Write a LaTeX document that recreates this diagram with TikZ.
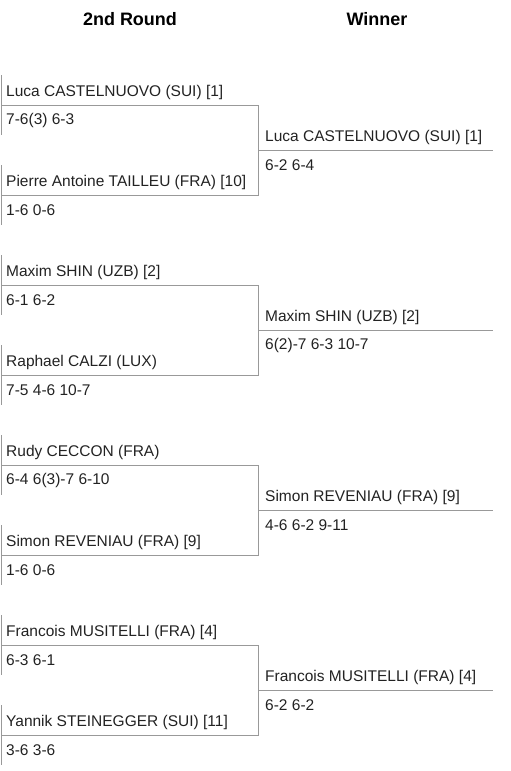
\documentclass[tikz,border=0pt]{standalone}
\usepackage{fontspec}
\setmainfont{Liberation Sans}
\usepackage{xcolor}
\definecolor{bracketgray}{RGB}{153,153,153}
\definecolor{bracketink}{RGB}{34,34,34}

\begin{document}
\begin{tikzpicture}[x=1pt, y=-1pt,
    player/.style={anchor=west, inner sep=0pt, text=bracketink, font=\fontsize{15.5}{18}\selectfont},
    heading/.style={inner sep=0pt, text=black, font=\fontsize{18}{21}\selectfont\bfseries},
    rule/.style={bracketgray, line width=1pt}]
    \useasboundingbox (0,0) rectangle (511,771);

    % Column headings
    \node[heading] (round) at (130,19.5) {2nd Round};
    \node[heading] (winner) at (377,19.5) {Winner};

    % One bracket per match
    \foreach \m/\pa/\sa/\pb/\sb/\pw/\sw in {
        0/Luca CASTELNUOVO (SUI) [1]/7-6(3) 6-3/Pierre Antoine TAILLEU (FRA) [10]/1-6 0-6/Luca CASTELNUOVO (SUI) [1]/6-2 6-4,
        1/Maxim SHIN (UZB) [2]/6-1 6-2/Raphael CALZI (LUX)/7-5 4-6 10-7/Maxim SHIN (UZB) [2]/6(2)-7 6-3 10-7,
        2/Rudy CECCON (FRA)/6-4 6(3)-7 6-10/Simon REVENIAU (FRA) [9]/1-6 0-6/Simon REVENIAU (FRA) [9]/4-6 6-2 9-11,
        3/Francois MUSITELLI (FRA) [4]/6-3 6-1/Yannik STEINEGGER (SUI) [11]/3-6 3-6/Francois MUSITELLI (FRA) [4]/6-2 6-2} {
        \pgfmathsetmacro{\yo}{180*\m}
        % corners of the bracket
        \coordinate (ta\m) at (1,75+\yo);
        \coordinate (ba\m) at (1,135+\yo);
        \coordinate (tb\m) at (1,165+\yo);
        \coordinate (bb\m) at (1,225+\yo);
        \coordinate (la\m) at (1,105+\yo);
        \coordinate (lb\m) at (1,195+\yo);
        \coordinate (ra\m) at (258,105+\yo);
        \coordinate (rb\m) at (258,195+\yo);
        \coordinate (wl\m) at (258,150+\yo);
        \coordinate (wr\m) at (493,150+\yo);
        \draw[rule] (ta\m) -- (ba\m);
        \draw[rule] (tb\m) -- (bb\m);
        \draw[rule] (la\m) -- (ra\m) -- (rb\m) -- (lb\m);
        \draw[rule] (wl\m) -- (wr\m);
        % players and scores
        \node[player] (pa\m) at (6,92+\yo) {\pa};
        \node[player] (sa\m) at (6,120+\yo) {\sa};
        \node[player] (pb\m) at (6,182+\yo) {\pb};
        \node[player] (sb\m) at (6,210+\yo) {\sb};
        \node[player] (pw\m) at (265,137+\yo) {\pw};
        \node[player] (sw\m) at (265,165+\yo) {\sw};
    }
\end{tikzpicture}
\end{document}
